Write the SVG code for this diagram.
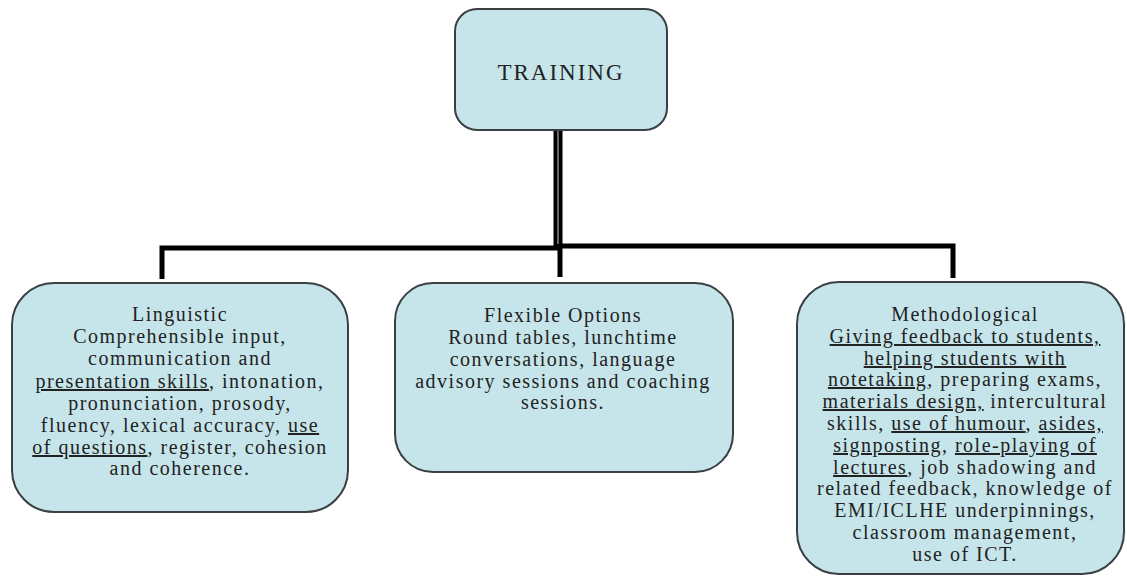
<svg xmlns="http://www.w3.org/2000/svg" width="1127" height="576" viewBox="0 0 1127 576">
<style>
.box{fill:#c6e5ea;stroke:#3a3f42;stroke-width:2}
.t{font-family:"Liberation Serif","Times New Roman",serif;font-size:20px;fill:#222;text-anchor:middle;letter-spacing:1.5px}
.u{text-decoration:underline}
.ln{stroke:#000;fill:none;stroke-width:5}
</style>
<rect width="1127" height="576" fill="#fff"/>
<g id="connectors">
<path class="ln" d="M162 279 V248 H558"/>
<path class="ln" d="M558 246 H953 V278"/>
<path class="ln" d="M560 246 V277"/>
<path d="M558 131 V248" stroke="#000" stroke-width="9" fill="none"/>
<path d="M558 131 V244" stroke="#666" stroke-width="2" fill="none"/>
</g>
<g id="training">
<rect class="box" x="455" y="9" width="212" height="121" rx="22"/>
<text class="t" x="561" y="80" style="font-size:23px;letter-spacing:2px">TRAINING</text>
</g>
<g id="linguistic">
<rect class="box" x="12" y="283" width="336" height="229" rx="42"/>
<text class="t" x="180" y="321">Linguistic</text>
<text class="t" x="180" y="343">Comprehensible input,</text>
<text class="t" x="180" y="365">communication and</text>
<text class="t" x="180" y="388"><tspan class="u">presentation skills</tspan>, intonation,</text>
<text class="t" x="180" y="410">pronunciation, prosody,</text>
<text class="t" x="180" y="432">fluency, lexical accuracy, <tspan class="u">use</tspan></text>
<text class="t" x="180" y="454"><tspan class="u">of questions</tspan>, register, cohesion</text>
<text class="t" x="180" y="475">and coherence.</text>
</g>
<g id="flexible">
<rect class="box" x="395" y="283" width="338" height="189" rx="38"/>
<text class="t" x="563" y="322">Flexible Options</text>
<text class="t" x="563" y="344">Round tables, lunchtime</text>
<text class="t" x="563" y="366">conversations, language</text>
<text class="t" x="563" y="388">advisory sessions and coaching</text>
<text class="t" x="563" y="409">sessions.</text>
</g>
<g id="methodological">
<rect class="box" x="797" y="282" width="327" height="292" rx="42"/>
<text class="t" x="965" y="321">Methodological</text>
<text class="t" x="965" y="343"><tspan class="u">Giving feedback to students,</tspan></text>
<text class="t" x="965" y="365"><tspan class="u">helping students with</tspan></text>
<text class="t" x="965" y="386"><tspan class="u">notetaking</tspan>, preparing exams,</text>
<text class="t" x="965" y="408"><tspan class="u">materials design,</tspan> intercultural</text>
<text class="t" x="965" y="430">skills, <tspan class="u">use of humour</tspan>, <tspan class="u">asides,</tspan></text>
<text class="t" x="965" y="452"><tspan class="u">signposting</tspan>, <tspan class="u">role-playing of</tspan></text>
<text class="t" x="965" y="474"><tspan class="u">lectures</tspan>, job shadowing and</text>
<text class="t" x="965" y="495">related feedback, knowledge of</text>
<text class="t" x="965" y="517">EMI/ICLHE underpinnings,</text>
<text class="t" x="965" y="539">classroom management,</text>
<text class="t" x="965" y="561">use of ICT.</text>
</g>
</svg>
